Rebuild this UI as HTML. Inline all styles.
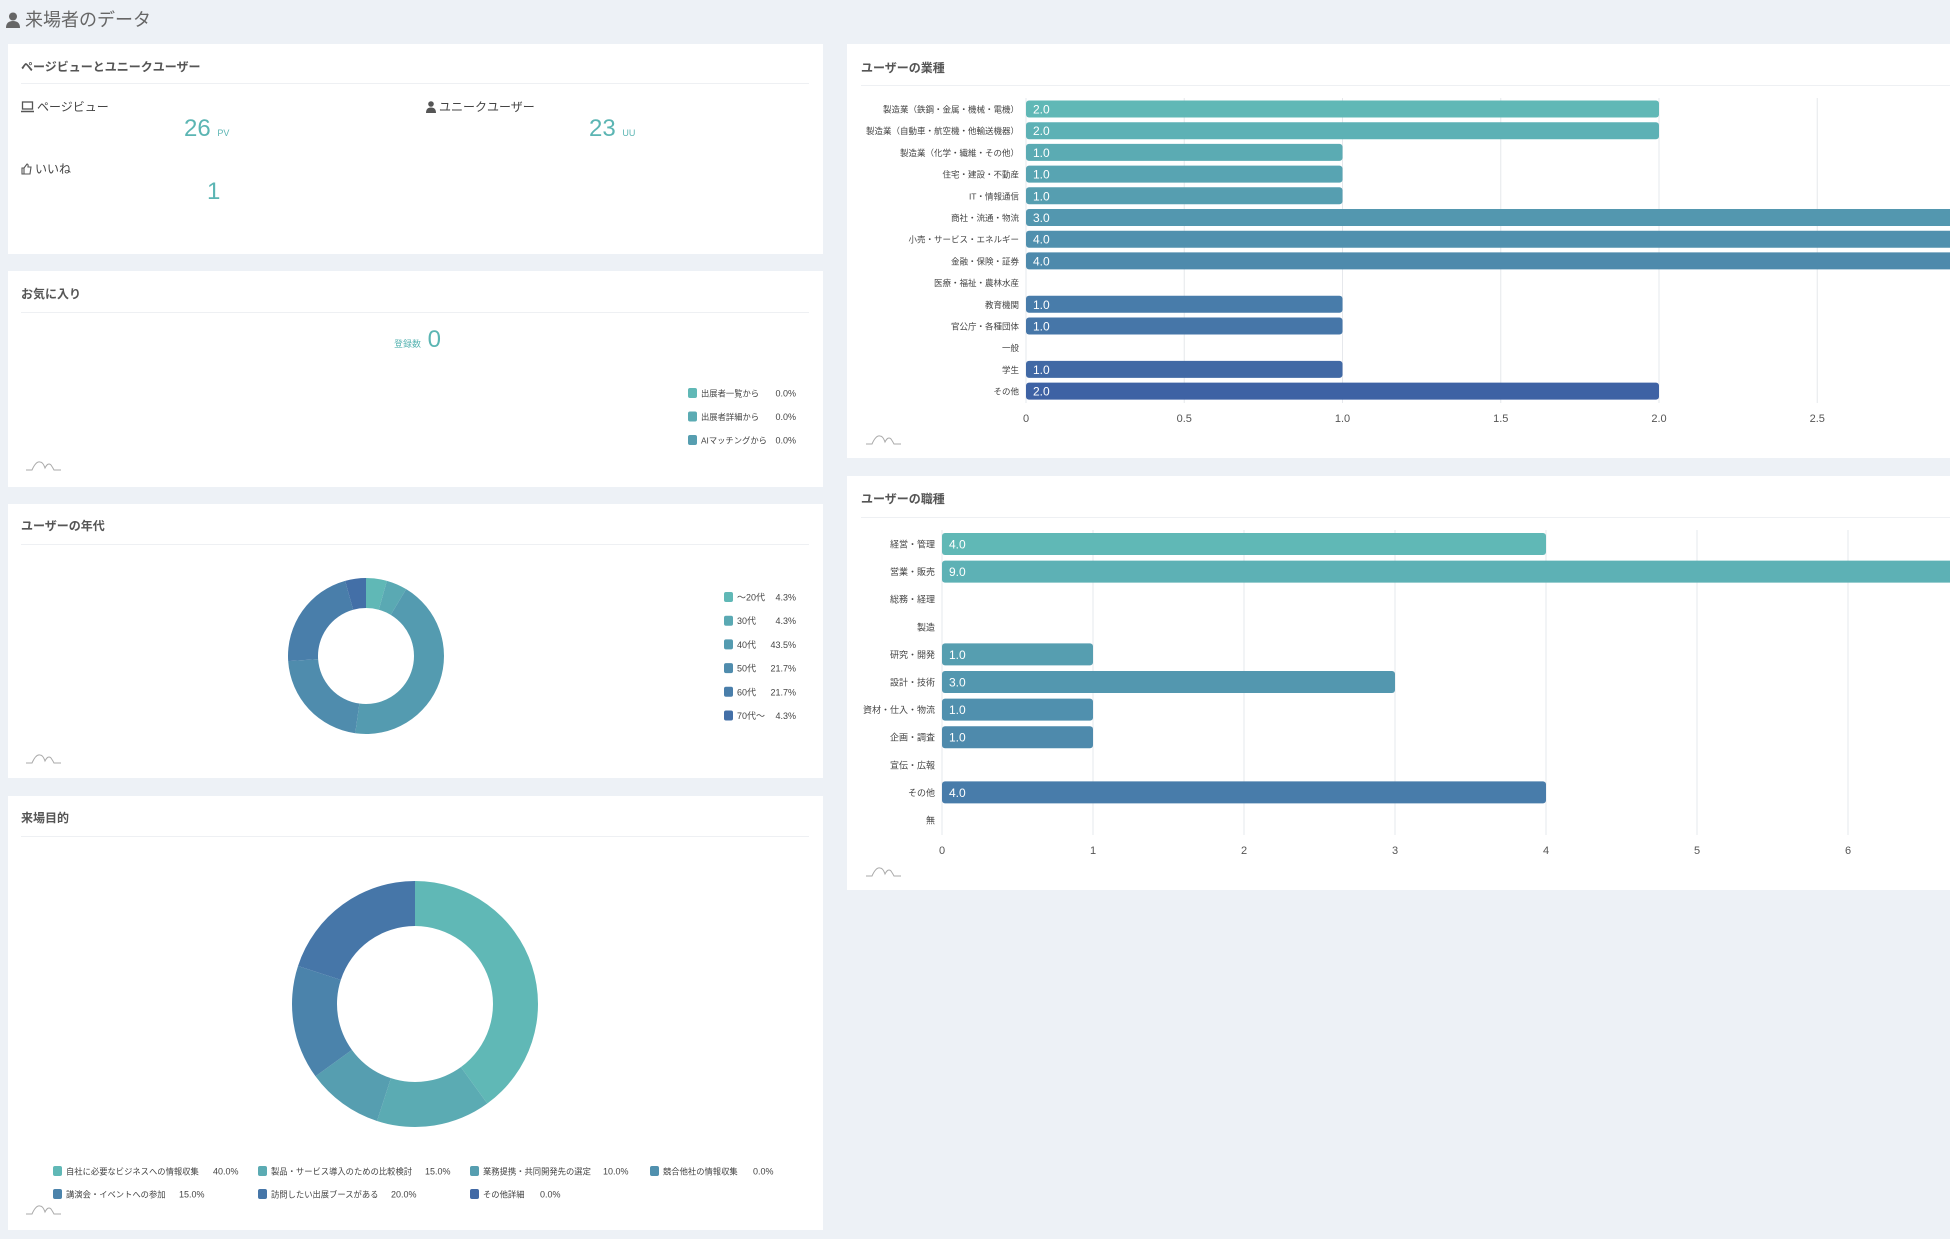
<!DOCTYPE html>
<html><head><meta charset="utf-8">
<style>
*{margin:0;padding:0;box-sizing:border-box}
body{width:1950px;height:1239px;background:#edf1f6;font-family:"Liberation Sans","Noto Sans CJK JP",sans-serif;position:relative;overflow:hidden;color:#444}
.panel{position:absolute;background:#fff}
.t{position:absolute;white-space:nowrap}
.sep{position:absolute;height:1px;background:#eef0f3}
.ptitle{font-size:12px;color:#555;font-weight:bold}
.num{color:#5bb5b3}
svg{position:absolute;left:0;top:0}
.ic{display:inline-block;vertical-align:-2px;margin-right:3px}
</style></head><body>
<div class="t" style="left:6px;top:6px;font-size:18px;color:#666">
<svg width="14" height="16" viewBox="0 0 14 16" style="position:relative;display:inline-block;vertical-align:-2px"><circle cx="7" cy="4.5" r="4" fill="#666"/><path d="M0 16 Q0 9 7 9 Q14 9 14 16Z" fill="#666"/></svg> 来場者のデータ</div>

<div class="panel" style="left:8px;top:44px;width:815px;height:210px"></div>
<div class="panel" style="left:8px;top:271px;width:815px;height:216px"></div>
<div class="panel" style="left:8px;top:504px;width:815px;height:274px"></div>
<div class="panel" style="left:8px;top:796px;width:815px;height:434px"></div>
<div class="panel" style="left:847px;top:44px;width:1110px;height:414px"></div>
<div class="panel" style="left:847px;top:476px;width:1110px;height:414px"></div>

<div class="t ptitle" style="left:21px;top:58px">ページビューとユニークユーザー</div>
<div class="sep" style="left:21px;top:83px;width:788px"></div>
<div class="t" style="left:21px;top:98px;font-size:12px"><svg class="ic" width="13" height="12" viewBox="0 0 13 12" style="position:relative"><rect x="1.5" y="1" width="10" height="7" fill="none" stroke="#555" stroke-width="1.3"/><path d="M0 10.5h13" stroke="#555" stroke-width="1.5"/></svg>ページビュー</div>
<div class="t num" style="left:184px;top:115px;font-size:24px">26 <span style="font-size:9px">PV</span></div>
<div class="t" style="left:426px;top:98px;font-size:12px"><svg class="ic" width="10" height="12" viewBox="0 0 10 12" style="position:relative"><circle cx="5" cy="3" r="2.8" fill="#555"/><path d="M0 12Q0 6.5 5 6.5Q10 6.5 10 12Z" fill="#555"/></svg>ユニークユーザー</div>
<div class="t num" style="left:589px;top:115px;font-size:24px">23 <span style="font-size:9px">UU</span></div>
<div class="t" style="left:21px;top:160px;font-size:12px"><svg class="ic" width="11" height="12" viewBox="0 0 11 12" style="position:relative"><path d="M1 5h2v6H1zM3 5l3-4q1.5 0 1 3h3l-1 7H3z" fill="none" stroke="#555" stroke-width="1.1"/></svg>いいね</div>
<div class="t num" style="left:207px;top:178px;font-size:24px">1</div>

<div class="t ptitle" style="left:21px;top:285px">お気に入り</div>
<div class="sep" style="left:21px;top:312px;width:788px"></div>
<div class="t num" style="left:394px;top:326px;font-size:24px"><span style="font-size:9px">登録数</span> 0</div>

<div class="t ptitle" style="left:21px;top:517px">ユーザーの年代</div>
<div class="sep" style="left:21px;top:544px;width:788px"></div>
<div class="t ptitle" style="left:21px;top:809px">来場目的</div>
<div class="sep" style="left:21px;top:836px;width:788px"></div>
<div class="t ptitle" style="left:861px;top:59px">ユーザーの業種</div>
<div class="sep" style="left:861px;top:85px;width:1089px"></div>
<div class="t ptitle" style="left:861px;top:490px">ユーザーの職種</div>
<div class="sep" style="left:861px;top:517px;width:1089px"></div>

<svg id="s" width="1950" height="1239"></svg>
<script>
const industryCats=["製造業（鉄鋼・金属・機械・電機）","製造業（自動車・航空機・他輸送機器）","製造業（化学・繊維・その他）","住宅・建設・不動産","IT・情報通信","商社・流通・物流","小売・サービス・エネルギー","金融・保険・証券","医療・福祉・農林水産","教育機関","官公庁・各種団体","一般","学生","その他"];
const industryVals=[2,2,1,1,1,3,4,4,0,1,1,0,1,2];
const industryTicks=[0,0.5,1,1.5,2,2.5,3];
const occCats=["経営・管理","営業・販売","総務・経理","製造","研究・開発","設計・技術","資材・仕入・物流","企画・調査","宣伝・広報","その他","無"];
const occVals=[4,9,0,0,1,3,1,1,0,4,0];
const occTicks=[0,1,2,3,4,5,6,7];
const favCats=["出展者一覧から","出展者詳細から","AIマッチングから"];
const favVals=[0,0,0];
const ageCats=["～20代","30代","40代","50代","60代","70代～"];
const ageVals=[4.3,4.3,43.5,21.7,21.7,4.3];
const purposeCats=["自社に必要なビジネスへの情報収集","製品・サービス導入のための比較検討","業務提携・共同開発先の選定","競合他社の情報収集","講演会・イベントへの参加","訪問したい出展ブースがある","その他詳細"];
const purposeVals=[40,15,10,0,15,20,0];

const NS="http://www.w3.org/2000/svg",S=document.getElementById('s');
function el(t,a,txt){const e=document.createElementNS(NS,t);for(const k in a)e.setAttribute(k,a[k]);if(txt!==undefined)e.textContent=txt;S.appendChild(e);return e;}
const c0=[96,184,182],c1=[62,98,164];
function col(i,n){const f=i/(n-1);return`rgb(${c0.map((v,k)=>Math.round(v+(c1[k]-v)*f)).join(',')})`;}
const F='"Liberation Sans","Noto Sans CJK JP",sans-serif';

function barChart(cats,vals,ticks,x0,unit,y0,step,bh,gTop,gBot,tickY,labX,name,lfs){
  const xs=v=>x0+v*unit, yc=i=>y0+i*step;
  ticks.forEach(t=>{
    const g=el('line',{x1:xs(t),x2:xs(t),y1:gTop,y2:gBot,stroke:'#e6e8ec','stroke-width':1});
    
    const l=el('text',{x:xs(t),y:tickY,'font-size':11,fill:'#555','text-anchor':'middle','font-family':F},t===0?'0':(Number.isInteger(t)&&name==='occupation'?String(t):t.toFixed(1)));
    
  });
  cats.forEach((c,i)=>{
    const lb=el('text',{x:labX,y:yc(i)+3.5,'font-size':lfs,fill:'#444','text-anchor':'end','font-family':F},c);
    
    if(vals[i]>0){
      const r=el('rect',{x:x0,y:yc(i)-bh/2,width:xs(vals[i])-x0,height:bh,rx:3,fill:col(i,14)});
      
      const v=el('text',{x:x0+7,y:yc(i)+4.5,'font-size':12,fill:'#fff','font-family':F},vals[i].toFixed(1));
      
    }
  });
}
barChart(industryCats,industryVals,industryTicks,1026,316.5,109,21.7,17,98,403,422,1019,'industry',8.5);
barChart(occCats,occVals,occTicks,942,151,544,27.6,22,530,835,854,935,'occupation',9);

function donut(vals,cx,cy,R,r,cols,name){
  const tot=vals.reduce((a,b)=>a+b,0);let a=-Math.PI/2;
  vals.forEach((v,i)=>{
    if(v<=0)return;
    const b=a+v/tot*2*Math.PI,lg=(b-a)>Math.PI?1:0;
    const p=(rr,t)=>[cx+rr*Math.cos(t),cy+rr*Math.sin(t)];
    const [x1,y1]=p(R,a),[x2,y2]=p(R,b),[x3,y3]=p(r,b),[x4,y4]=p(r,a);
    const s=el('path',{d:`M${x1} ${y1}A${R} ${R} 0 ${lg} 1 ${x2} ${y2}L${x3} ${y3}A${r} ${r} 0 ${lg} 0 ${x4} ${y4}Z`,fill:cols[i]});
    
    a=b;
  });
}
const ageCols=ageVals.map((v,i)=>col(i*2.2,14));
donut(ageVals,366,656,78,48,ageCols,'age');
const purCols=purposeVals.map((v,i)=>col(i*2,14));
donut(purposeVals,415,1004,123,78,purCols,'purpose');

function legendItem(x,y,color,label,pct,px,name,anchor,fs){
  const r=el('rect',{x:x,y:y-5,width:9,height:10,rx:2,fill:color});
  
  const t=el('text',{x:x+13,y:y+3.5,'font-size':fs,fill:'#444','font-family':F},label);
  
  const p=el('text',{x:px,y:y+3.5,'font-size':9,fill:'#444','font-family':F,'text-anchor':anchor||'end'},pct);
  
}
favCats.forEach((c,i)=>legendItem(688,393+i*23.5,col(i*2,14),c,favVals[i].toFixed(1)+'%',796,'favorites','end',8.3));
ageCols.length;ageCats.forEach((c,i)=>legendItem(724,597+i*23.7,ageCols[i],c,ageVals[i].toFixed(1)+'%',796,'age','end',9));
const pX=[53,258,470,650,53,258,470],pY=[1171,1171,1171,1171,1194,1194,1194],pP=[213,425,603,753,179,391,540];
purposeCats.forEach((c,i)=>legendItem(pX[i],pY[i],purCols[i],c,purposeVals[i].toFixed(1)+'%',pP[i],'purpose','start',8.3));

[[26,470],[26,763],[26,1214],[866,444],[866,876]].forEach(([x,y])=>{
  const w=el('path',{d:`M${x} ${y}h6q4 -9 8 -8q3 0 5 6q3 -6 6 -3q2 3 3 5h7`,fill:'none',stroke:'#aaa','stroke-width':1});
  
});
</script>
</body></html>
